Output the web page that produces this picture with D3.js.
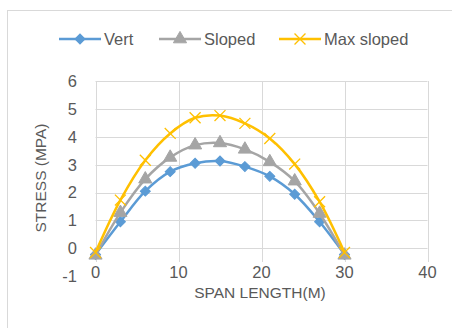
<!DOCTYPE html>
<html>
<head>
<meta charset="utf-8">
<script src="https://cdn.jsdelivr.net/npm/d3@7"></script>
<style>
  body { margin: 0; background: #fff; }
  text { font-family: "Liberation Sans", Arial, sans-serif; fill: #595959; }
</style>
</head>
<body>
<div id="chart"></div>
<script>
// span positions (m) and stresses (MPa)
var span = [0, 3, 6, 9, 12, 15, 18, 21, 24, 27, 30];
var vert = [-0.22, 0.95, 2.05, 2.75, 3.05, 3.13, 2.93, 2.58, 1.94, 0.95, -0.22];
var sloped = [-0.25, 1.28, 2.48, 3.26, 3.7, 3.78, 3.55, 3.1, 2.41, 1.25, -0.25];
var maxSloped = [-0.15, 1.73, 3.16, 4.12, 4.68, 4.76, 4.48, 3.94, 3.02, 1.67, -0.15];
var seriesNames = ["Vert", "Sloped", "Max sloped"];
var seriesColors = ["#5B9BD5", "#A5A5A5", "#FFC000"];
var seriesMarks = ["diamond", "triangle", "cross"];
var xTicks = [0, 10, 20, 30, 40];
var yTicks = [-1, 0, 1, 2, 3, 4, 5, 6];

var width = 452, height = 328;

var svg = d3.select("#chart").append("svg")
    .attr("width", width)
    .attr("height", height);

// chart frame
svg.append("rect")
    .attr("x", 7.5).attr("y", 10.5)
    .attr("width", 460).attr("height", 330)
    .attr("fill", "none")
    .attr("stroke", "#d9d9d9");

var x = d3.scaleLinear().domain([0, 40]).range([95.5, 427.5]);
var y = d3.scaleLinear().domain([-1, 6]).range([276.2, 81]);

// gridlines
svg.append("g").selectAll("line")
    .data(yTicks.filter(function(d) { return d >= 0; }))
    .enter().append("line")
    .attr("x1", x(0)).attr("x2", x(40))
    .attr("y1", function(d) { return Math.round(y(d)) + 0.5; })
    .attr("y2", function(d) { return Math.round(y(d)) + 0.5; })
    .attr("stroke", "#d9d9d9");

svg.append("g").selectAll("line")
    .data(xTicks)
    .enter().append("line")
    .attr("x1", function(d) { return Math.round(x(d)) + 0.5; })
    .attr("x2", function(d) { return Math.round(x(d)) + 0.5; })
    .attr("y1", y(6)).attr("y2", 262)
    .attr("stroke", "#d9d9d9");

// tick labels
svg.append("g").selectAll("text")
    .data(yTicks)
    .enter().append("text")
    .attr("x", 77)
    .attr("y", function(d) { return y(d); })
    .attr("dy", "0.36em")
    .attr("text-anchor", "end")
    .style("font-size", "16.5px")
    .text(function(d) { return d; });

svg.append("g").selectAll("text")
    .data(xTicks)
    .enter().append("text")
    .attr("x", function(d) { return x(d); })
    .attr("y", 272)
    .attr("dy", "0.36em")
    .attr("text-anchor", "middle")
    .style("font-size", "16.5px")
    .text(function(d) { return d; });

// axis titles
svg.append("text")
    .attr("x", 260).attr("y", 298)
    .attr("text-anchor", "middle")
    .style("font-size", "15.5px")
    .text("SPAN LENGTH(M)");

svg.append("text")
    .attr("transform", "translate(46,178) rotate(-90)")
    .attr("text-anchor", "middle")
    .style("font-size", "15.5px")
    .text("STRESS (MPA)");

var symbols = {
  diamond: d3.symbol().type(d3.symbolSquare).size(50),
  triangle: d3.symbol().type(d3.symbolTriangle).size(75),
  cross: d3.symbol().type(d3.symbolX).size(80)
};

function drawMarker(g, mark, color) {
  var p = g.append("path").attr("d", symbols[mark]());
  if (mark == "cross") {
    p.attr("fill", "none").attr("stroke", color).attr("stroke-width", 1.3);
  } else {
    p.attr("fill", color).attr("stroke", color).attr("stroke-width", 1);
  }
  if (mark == "diamond") p.attr("transform", "rotate(45)");
}

var line = d3.line()
    .x(function(d) { return x(d[0]); })
    .y(function(d) { return y(d[1]); })
    .curve(d3.curveCatmullRom.alpha(0.5));

var allSeries = [vert, sloped, maxSloped];

allSeries.forEach(function(vals, i) {
  var pts = span.map(function(s, j) { return [s, vals[j]]; });
  var g = svg.append("g");
  g.append("path")
      .attr("d", line(pts))
      .attr("fill", "none")
      .attr("stroke", seriesColors[i])
      .attr("stroke-width", 2.5)
      .attr("stroke-linejoin", "round");
  pts.forEach(function(p) {
    var m = g.append("g").attr("transform", "translate(" + x(p[0]) + "," + y(p[1]) + ")");
    drawMarker(m, seriesMarks[i], seriesColors[i]);
  });
});

// legend
var legendX = [59, 159, 279];
seriesNames.forEach(function(name, i) {
  var g = svg.append("g").attr("transform", "translate(" + legendX[i] + ",39)");
  g.append("line")
      .attr("x1", 0).attr("x2", 42)
      .attr("stroke", seriesColors[i])
      .attr("stroke-width", 2.5);
  var m = g.append("g").attr("transform", "translate(21,0)");
  drawMarker(m, seriesMarks[i], seriesColors[i]);
  g.append("text")
      .attr("x", 45).attr("dy", "0.36em")
      .style("font-size", "16.5px")
      .text(name);
});
</script>
</body>
</html>
